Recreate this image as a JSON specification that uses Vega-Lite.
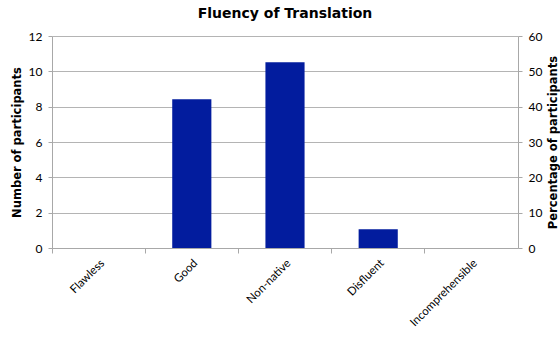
{
  "$schema": "https://vega.github.io/schema/vega-lite/v6.json",
  "autosize": "none",
  "width": 466,
  "height": 212,
  "padding": {"left": 52, "top": 36, "right": 42, "bottom": 90},
  "background": "white",
  "title": {
    "text": "Fluency of Translation",
    "font": "DejaVu Sans",
    "fontSize": 14,
    "fontWeight": "bold",
    "color": "black",
    "anchor": "middle",
    "offset": 9
  },
  "config": {
    "view": {"stroke": null},
    "axis": {
      "labelFont": "Lato",
      "labelFontSize": 12,
      "labelColor": "black",
      "titleFont": "DejaVu Sans",
      "titleFontSize": 11.5,
      "titleFontWeight": "bold",
      "titleColor": "black",
      "domainColor": "#a8a8a8",
      "tickColor": "#a8a8a8",
      "gridColor": "#b4b4b4"
    }
  },
  "data": {
    "values": [
      {"category": "Flawless", "participants": 0, "percentage": 0},
      {"category": "Good", "participants": 8, "percentage": 42.1},
      {"category": "Non-native", "participants": 10, "percentage": 52.6},
      {"category": "Disfluent", "participants": 1, "percentage": 5.3},
      {"category": "Incomprehensible", "participants": 0, "percentage": 0}
    ]
  },
  "encoding": {
    "x": {
      "field": "category",
      "type": "nominal",
      "sort": null,
      "scale": {"padding": 0},
      "axis": {
        "title": null,
        "labelAngle": -45,
        "labelAlign": "right",
        "labelBaseline": "top",
        "bandPosition": 0,
        "labelPadding": 4,
        "labelFontSize": 11.5,
        "tickSize": 5,
        "grid": false
      }
    }
  },
  "layer": [
    {
      "mark": {"type": "bar", "opacity": 0, "width": {"band": 0.42}},
      "encoding": {
        "y": {
          "field": "participants",
          "type": "quantitative",
          "scale": {"domain": [0, 12]},
          "axis": {
            "orient": "left",
            "title": "Number of participants",
            "values": [0, 2, 4, 6, 8, 10, 12],
            "grid": true,
            "tickSize": 4,
            "labelPadding": 6,
            "titlePadding": 6
          }
        }
      }
    },
    {
      "mark": {"type": "bar", "color": "#021c9e", "width": {"band": 0.42}},
      "encoding": {
        "y": {
          "field": "percentage",
          "type": "quantitative",
          "scale": {"domain": [0, 60]},
          "axis": {
            "orient": "right",
            "title": "Percentage of participants",
            "titleAngle": -90,
            "values": [0, 10, 20, 30, 40, 50, 60],
            "grid": false,
            "tickSize": 4,
            "labelPadding": 6,
            "titlePadding": 17
          }
        }
      }
    }
  ],
  "resolve": {"scale": {"y": "independent"}, "axis": {"y": "independent"}}
}
